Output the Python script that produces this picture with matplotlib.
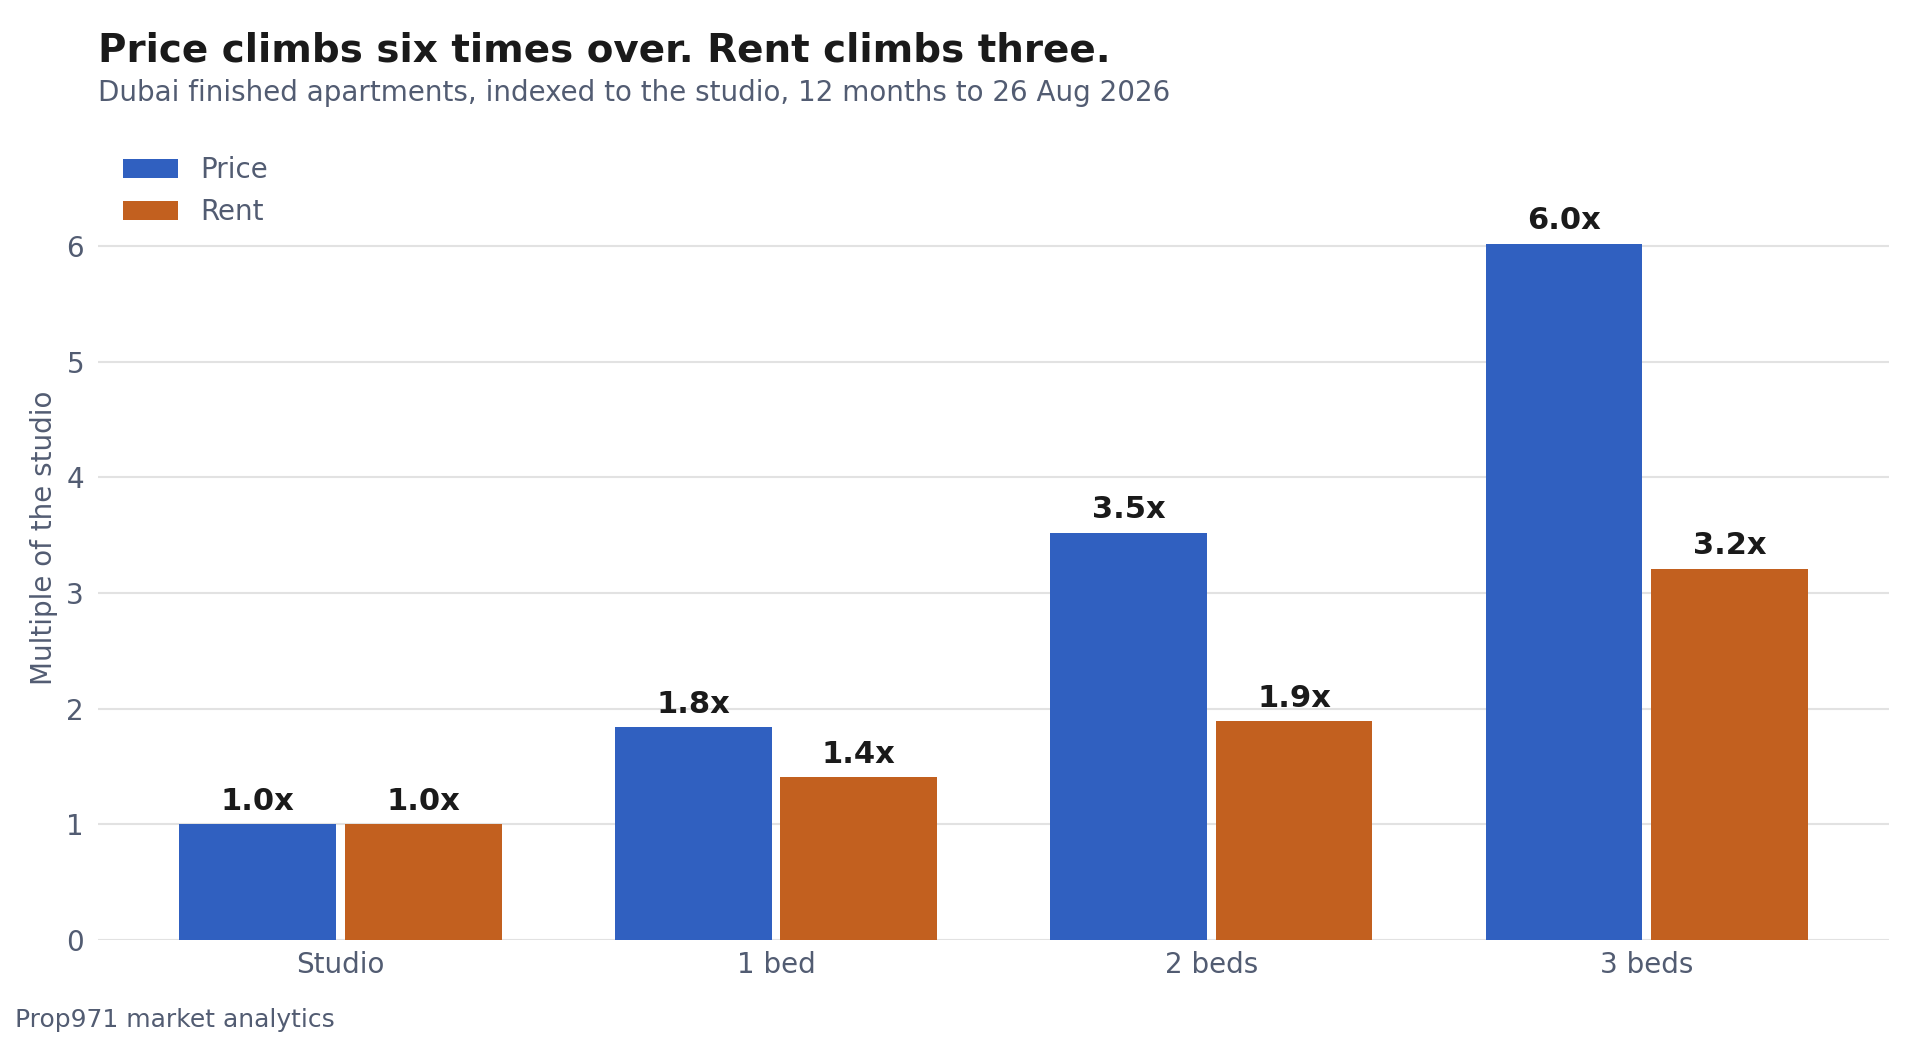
import matplotlib
matplotlib.use("Agg")
import matplotlib.pyplot as plt
import numpy as np

categories = ["Studio", "1 bed", "2 beds", "3 beds"]
price = [1.00, 1.84, 3.52, 6.02]
rent = [1.00, 1.41, 1.89, 3.21]
price_labels = ["1.0x", "1.8x", "3.5x", "6.0x"]
rent_labels = ["1.0x", "1.4x", "1.9x", "3.2x"]
yticks = [0, 1, 2, 3, 4, 5, 6]

BLUE = "#3060C0"
ORANGE = "#C2601F"
SLATE = "#525C72"
DARK = "#1A1A1A"
GRID = "#E2E2E2"

plt.rcParams['font.family'] = ['DejaVu Sans']

fig = plt.figure(figsize=(19.2, 10.4), dpi=100)
ax = fig.add_axes([0.051, 0.0962, 0.933, 0.773])

x = np.arange(len(categories))
w = 0.36
off = 0.19
b1 = ax.bar(x - off, price, w, color=BLUE, label="Price", zorder=3)
b2 = ax.bar(x + off, rent, w, color=ORANGE, label="Rent", zorder=3)

for rect, lab in zip(b1, price_labels):
    ax.annotate(lab, (rect.get_x() + rect.get_width() / 2, rect.get_height()),
                xytext=(0, 6), textcoords="offset points", ha="center", va="bottom",
                fontsize=22, fontweight="bold", color=DARK)
for rect, lab in zip(b2, rent_labels):
    ax.annotate(lab, (rect.get_x() + rect.get_width() / 2, rect.get_height()),
                xytext=(0, 6), textcoords="offset points", ha="center", va="bottom",
                fontsize=22, fontweight="bold", color=DARK)

ax.set_ylim(0, 6.95)
ax.set_yticks(yticks)
ax.set_xticks(x)
ax.set_xticklabels(categories)
ax.tick_params(axis="x", length=0, labelsize=20, labelcolor=SLATE, pad=8)
ax.tick_params(axis="y", length=0, labelsize=20, labelcolor=SLATE, pad=10)
ax.yaxis.grid(True, color=GRID, linewidth=1.5, zorder=0)
ax.set_axisbelow(True)
for s in ax.spines.values():
    s.set_visible(False)
ax.set_ylabel("Multiple of the studio", fontsize=20, color=SLATE, labelpad=6)

leg = ax.legend(loc="upper left", bbox_to_anchor=(0, 1.006), frameon=False,
                fontsize=20, handlelength=2.0, handleheight=0.7, labelspacing=0.5)
for t in leg.get_texts():
    t.set_color(SLATE)

fig.text(0.051, 0.951, "Price climbs six times over. Rent climbs three.",
         fontsize=28, fontweight="bold", color=DARK, ha="left", va="center")
fig.text(0.051, 0.911, "Dubai finished apartments, indexed to the studio, 12 months to 26 Aug 2026",
         fontsize=20, color=SLATE, ha="left", va="center")
fig.text(0.008, 0.019, "Prop971 market analytics", fontsize=18, color=SLATE,
         ha="left", va="center")

fig.savefig("out.png", dpi=100)
